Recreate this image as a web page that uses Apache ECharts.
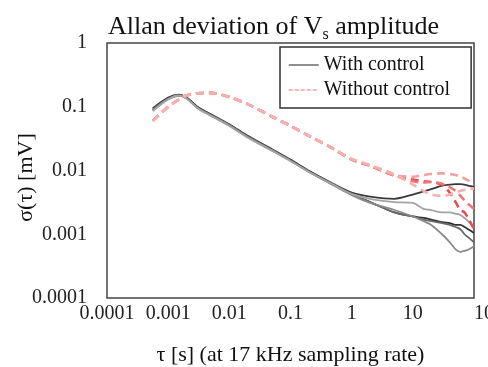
<!DOCTYPE html>
<html>
<head>
<meta charset="utf-8">
<script src="https://cdn.jsdelivr.net/npm/echarts@6/dist/echarts.min.js"></script>
<style>html,body{margin:0;padding:0;background:#fff}#c{width:488px;height:367px}</style>
</head>
<body>
<div id="c"></div>
<script>
// tau [s]
const tau = [0.00056, 0.001, 0.0015, 0.002, 0.003, 0.005, 0.01, 0.02, 0.05, 0.1, 0.2, 0.5, 1, 2, 5, 10, 15, 20, 30, 40, 50, 60, 70, 80, 100];
// With control (sigma in mV)
const withCtrl1 = [0.095, 0.14, 0.155, 0.14, 0.1, 0.076, 0.053, 0.035, 0.0215, 0.0148, 0.0099, 0.0062, 0.0045, 0.0039, 0.0036, 0.0042, 0.0047, 0.0051, 0.0058, 0.006, 0.0061, 0.0061, 0.006, 0.0058, 0.0056];
const withCtrl2 = [0.085, 0.13, 0.15, 0.135, 0.095, 0.072, 0.05, 0.033, 0.0205, 0.014, 0.0095, 0.006, 0.0043, 0.0036, 0.0032, 0.0031, 0.0025, 0.0024, 0.0022, 0.0022, 0.0021, 0.002, 0.0018, 0.0016, 0.0013];
const withCtrl3 = [0.09, 0.135, 0.15, 0.138, 0.098, 0.074, 0.052, 0.034, 0.021, 0.0145, 0.0097, 0.006, 0.0042, 0.0032, 0.0022, 0.0019, 0.0018, 0.0017, 0.00155, 0.0015, 0.0014, 0.0014, 0.0013, 0.0012, 0.00105];
const withCtrl4 = [0.088, 0.132, 0.148, 0.135, 0.096, 0.073, 0.051, 0.033, 0.0205, 0.0142, 0.0095, 0.0059, 0.0041, 0.0031, 0.0024, 0.0019, 0.0016, 0.0014, 0.001, 0.00075, 0.00058, 0.00053, 0.00055, 0.00057, 0.00065];
const withCtrl5 = [0.09, 0.134, 0.15, 0.137, 0.097, 0.074, 0.052, 0.034, 0.021, 0.0144, 0.0096, 0.006, 0.0042, 0.0032, 0.0022, 0.0019, 0.0017, 0.0016, 0.0015, 0.0014, 0.0013, 0.0012, 0.001, 0.0009, 0.00075];
// Without control
const withoutCtrl1 = [0.06, 0.1, 0.13, 0.15, 0.163, 0.165, 0.142, 0.11, 0.07, 0.05, 0.035, 0.022, 0.015, 0.012, 0.0085, 0.008, 0.0085, 0.0088, 0.009, 0.0088, 0.0085, 0.008, 0.0075, 0.007, 0.006];
const withoutCtrl2 = [0.06, 0.1, 0.13, 0.15, 0.163, 0.165, 0.142, 0.11, 0.07, 0.05, 0.035, 0.022, 0.0148, 0.0118, 0.0083, 0.0072, 0.0068, 0.0066, 0.006, 0.0045, 0.0032, 0.0024, 0.0022, 0.0018, 0.0012];
const withoutCtrl3 = [0.06, 0.1, 0.13, 0.15, 0.163, 0.165, 0.142, 0.11, 0.07, 0.05, 0.035, 0.022, 0.0152, 0.0122, 0.0087, 0.006, 0.0048, 0.0042, 0.004, 0.0042, 0.0045, 0.0048, 0.005, 0.0052, 0.0052];
const withoutCtrl4 = [0.06, 0.1, 0.13, 0.15, 0.163, 0.165, 0.142, 0.11, 0.07, 0.05, 0.035, 0.022, 0.015, 0.012, 0.0084, 0.0068, 0.0065, 0.0066, 0.0062, 0.0055, 0.0048, 0.004, 0.0034, 0.003, 0.0025];
// Tick labels
const xTickLabels = ['0.0001', '0.001', '0.01', '0.1', '1', '10', '100'];
const yTickLabels = ['0.0001', '0.001', '0.01', '0.1', '1'];

const FONT = 'Liberation Serif';
const pair = arr => tau.map((t, i) => [t, arr[i]]);
const graySeries = [
  [withCtrl3, '#303030'], [withCtrl1, '#3a3a3a'], [withCtrl5, '#6a6a6a'],
  [withCtrl4, '#8a8a8a'], [withCtrl2, '#a3a3a3']
].map(([d, c]) => ({
  name: 'With control', type: 'line', data: pair(d), symbol: 'none', smooth: 0.3,
  lineStyle: { color: c, width: 1.8 }, itemStyle: { color: c }, z: 2
}));
const redSeries = [
  [withoutCtrl2, '#e84c4c'], [withoutCtrl4, '#ef7676'],
  [withoutCtrl1, '#f5a0a0'], [withoutCtrl3, '#f7b0b0']
].map(([d, c]) => ({
  name: 'Without control', type: 'line', data: pair(d), symbol: 'none', smooth: 0.3,
  lineStyle: { color: c, width: 2.6, type: [8, 5] }, itemStyle: { color: c }, z: 3
}));

const chart = echarts.init(document.getElementById('c'));
chart.setOption({
  animation: false,
  title: {
    text: '{a|Allan deviation of V}{s|s}{a| amplitude}',
    left: 103, top: 6,
    textStyle: {
      fontWeight: 'normal',
      rich: {
        a: { fontFamily: FONT, fontSize: 26, fontWeight: 'normal', color: '#111', lineHeight: 32 },
        s: { fontFamily: FONT, fontSize: 16, fontWeight: 'normal', color: '#111', lineHeight: 14, verticalAlign: 'bottom' }
      }
    }
  },
  legend: {
    left: 280, top: 47, orient: 'vertical',
    padding: [8, 21, 8, 8], itemGap: 5, itemWidth: 30, itemHeight: 14,
    borderColor: '#333', borderWidth: 1.5, selectedMode: false,
    textStyle: { fontFamily: FONT, fontSize: 20, color: '#111', lineHeight: 20 },
    data: [
      { name: 'With control', lineStyle: { color: '#444', width: 1.2, type: 'solid' }, itemStyle: { opacity: 0 } },
      { name: 'Without control', lineStyle: { color: '#f5a0a0', width: 1.5, type: [4, 2] }, itemStyle: { opacity: 0 } }
    ]
  },
  grid: { left: 107, right: 14, top: 43, bottom: 69, show: true, borderColor: '#444', borderWidth: 1.5, backgroundColor: 'transparent', containLabel: false, outerBoundsMode: 'none' },
  xAxis: {
    type: 'log', logBase: 10, min: 0.0001, max: 100,
    name: 'τ [s] (at 17 kHz sampling rate)', nameLocation: 'middle', nameGap: 46,
    nameTextStyle: { fontFamily: FONT, fontSize: 22, color: '#111' },
    axisLine: { show: false }, axisTick: { show: false }, splitLine: { show: false },
    axisLabel: {
      fontFamily: FONT, fontSize: 20, color: '#222', margin: 6, alignMaxLabel: 'left',
      formatter: v => xTickLabels[Math.round(Math.log10(v)) + 4]
    }
  },
  yAxis: {
    type: 'log', logBase: 10, min: 0.0001, max: 1,
    name: 'σ(τ) [mV]', nameLocation: 'middle', nameGap: 70, nameMoveOverlap: false,
    nameTextStyle: { fontFamily: FONT, fontSize: 22, color: '#111', padding: [0, 14, 0, 0] },
    axisLine: { show: false }, axisTick: { show: false }, splitLine: { show: false },
    axisLabel: {
      fontFamily: FONT, fontSize: 20, color: '#222', margin: 20,
      formatter: v => yTickLabels[Math.round(Math.log10(v)) + 4]
    }
  },
  series: graySeries.concat(redSeries)
});
</script>
</body>
</html>
